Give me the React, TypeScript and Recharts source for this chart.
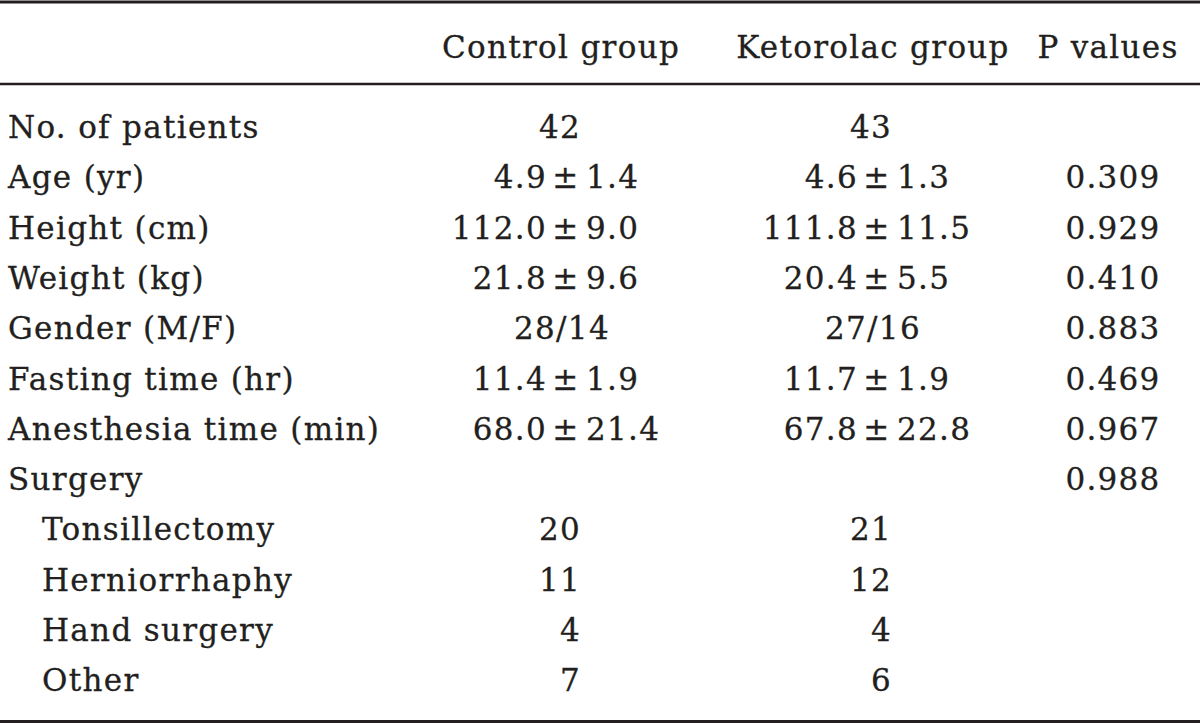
import React from "react";
import { ScatterChart, Scatter, XAxis, YAxis } from "recharts";

const headers = ["Control group", "Ketorolac group", "P values"];

const rowLabels = [
  "No. of patients",
  "Age (yr)",
  "Height (cm)",
  "Weight (kg)",
  "Gender (M/F)",
  "Fasting time (hr)",
  "Anesthesia time (min)",
  "Surgery",
  "Tonsillectomy",
  "Herniorrhaphy",
  "Hand surgery",
  "Other",
];

// sub-rows of "Surgery", drawn indented
const surgeryTypes = ["Tonsillectomy", "Herniorrhaphy", "Hand surgery", "Other"];

const controlValues = ["42", "4.9 ± 1.4", "112.0 ± 9.0", "21.8 ± 9.6", "28/14", "11.4 ± 1.9", "68.0 ± 21.4", "", "20", "11", "4", "7"];
const ketorolacValues = ["43", "4.6 ± 1.3", "111.8 ± 11.5", "20.4 ± 5.5", "27/16", "11.7 ± 1.9", "67.8 ± 22.8", "", "21", "12", "4", "6"];
const pValues = ["", "0.309", "0.929", "0.410", "0.883", "0.469", "0.967", "0.988", "", "", "", ""];

// layout: horizontal anchors of each column on a 0..1200 axis
const WIDTH = 1200;
const HEIGHT = 723;
const LABEL_X = 8;
const INDENT_X = 42;
const HEADER_X = [561, 873, 1108];
const VALUE_X = [566, 877, 1113]; // position of the ± sign in each column

const INK = "#231f20";
const FONT = "'DejaVu Serif', serif";
const FONT_SIZE = 31;
const SPACING = 1.3;

const textProps = {
  fontFamily: FONT,
  fontSize: FONT_SIZE,
  letterSpacing: SPACING,
  fill: INK,
  stroke: INK,
  strokeWidth: 0.3,
};

const labelData = rowLabels.map((row) => ({
  x: surgeryTypes.includes(row) ? INDENT_X : LABEL_X,
  row,
  text: row,
}));
const columnData = (values: string[], x: number) =>
  rowLabels.map((row, i) => ({ x, row, text: values[i] }));

const DY = 10;

const LabelShape = (props: any) => {
  const { cx, cy, payload } = props;
  return (
    <text x={cx} y={cy} dy={DY} textAnchor="start" {...textProps}>
      {payload.text}
    </text>
  );
};

// mean ± sd cells line up on the ± sign, counts line up on their last digit
const ValueShape = (props: any) => {
  const { cx, cy, payload } = props;
  const t: string = payload?.text || "";
  if (!t) return <g />;
  if (t.includes("±")) {
    const [left, right] = t.split("±").map((s) => s.trim());
    return (
      <g>
        <text x={cx - 19} y={cy} dy={DY} textAnchor="end" {...textProps}>{left}</text>
        <text x={cx} y={cy} dy={DY} textAnchor="middle" {...textProps}>±</text>
        <text x={cx + 20} y={cy} dy={DY} textAnchor="start" {...textProps}>{right}</text>
      </g>
    );
  }
  if (t.includes("/")) {
    return (
      <text x={cx - 4} y={cy} dy={DY} textAnchor="middle" {...textProps}>{t}</text>
    );
  }
  return (
    <text x={cx + 15} y={cy} dy={DY} textAnchor="end" {...textProps}>{t}</text>
  );
};

const PShape = (props: any) => {
  const { cx, cy, payload } = props;
  if (!payload?.text) return <g />;
  return (
    <text x={cx} y={cy} dy={DY} textAnchor="middle" {...textProps}>
      {payload.text}
    </text>
  );
};

const HeaderTick = (props: any) => {
  const { x, y, index } = props;
  return (
    <text x={x} y={y} textAnchor="middle" {...textProps}>
      {headers[index]}
    </text>
  );
};

export default function App() {
  return (
    <div style={{ position: "absolute", left: 0, top: 0, background: "#fff" }}>
      <ScatterChart width={WIDTH} height={HEIGHT} margin={{ top: 0, right: 0, bottom: 0, left: 0 }}>
        <XAxis
          xAxisId="head"
          orientation="top"
          type="number"
          dataKey="x"
          domain={[0, WIDTH]}
          height={82}
          ticks={HEADER_X}
          interval={0}
          tick={<HeaderTick />}
          tickSize={0}
          tickMargin={26}
          tickLine={false}
          axisLine={{ stroke: INK, strokeWidth: 2.5 }}
        />
        <XAxis
          xAxisId="topRule"
          orientation="top"
          type="number"
          domain={[0, WIDTH]}
          height={2}
          tick={false}
          tickLine={false}
          axisLine={{ stroke: INK, strokeWidth: 3 }}
        />
        <XAxis
          xAxisId="bottomRule"
          orientation="bottom"
          type="number"
          domain={[0, WIDTH]}
          height={1.5}
          tick={false}
          tickLine={false}
          axisLine={{ stroke: INK, strokeWidth: 3 }}
        />
        <YAxis
          type="category"
          dataKey="row"
          hide
          reversed
          allowDuplicatedCategory={false}
          padding={{ top: 19, bottom: 15 }}
        />
        <Scatter xAxisId="head" data={labelData} shape={LabelShape} isAnimationActive={false} />
        <Scatter xAxisId="head" data={columnData(controlValues, VALUE_X[0])} shape={ValueShape} isAnimationActive={false} />
        <Scatter xAxisId="head" data={columnData(ketorolacValues, VALUE_X[1])} shape={ValueShape} isAnimationActive={false} />
        <Scatter xAxisId="head" data={columnData(pValues, VALUE_X[2])} shape={PShape} isAnimationActive={false} />
      </ScatterChart>
    </div>
  );
}
